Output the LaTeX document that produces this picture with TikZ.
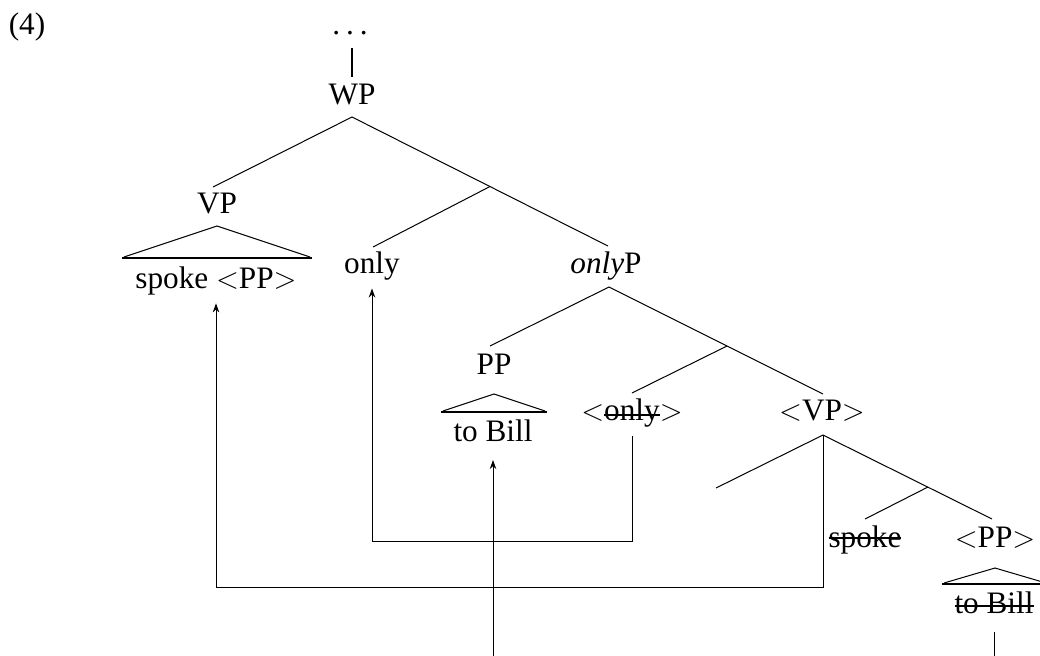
\documentclass[tikz,border=0pt]{standalone}
\usepackage{fontspec}
\setmainfont{Liberation Serif}
\usetikzlibrary{arrows.meta}
\newcommand{\strk}[2][2.6pt]{\sbox0{#2}\rlap{\rule[#1]{\wd0}{0.8pt}}\usebox0}
\tikzset{
  lbl/.style={anchor=base, inner sep=3.3pt, font=\fontsize{12.5}{15}\selectfont},
  branch/.style={line width=0.4pt},
  roofbase/.style={line width=0.8pt},
  move/.style={line width=0.4pt, -{Stealth[length=3.6pt,width=2.6pt]}}
}
\begin{document}
\begin{tikzpicture}[x=0.4pt, y=-0.4pt]
  \clip (0,0) rectangle (1040,655);
  % Labels
  \node[lbl] (ex) at (27,34) {(4)};
  \node[lbl] (dots) at (350,34) {.\hspace{2.4pt}.\hspace{2.4pt}.};
  \node[lbl] (WP) at (352,104) {WP};
  \node[lbl] (VP) at (217,213) {VP};
  \node[lbl] (spk) at (216,288) {spoke $<$PP$>$};
  \node[lbl] (only) at (372,273) {only};
  \node[lbl] (onlyP) at (606,273) {\textit{only}P};
  \node[lbl] (PP) at (494,374) {PP};
  \node[lbl] (tb) at (493,441) {to Bill};
  \node[lbl] (onlyT) at (632,420) {$<$\strk[1.8pt]{only}$>$};
  \node[lbl] (VPt) at (822,420) {$<$VP$>$};
  \node[lbl] (spkT) at (865,547) {\strk[3.4pt]{spoke}};
  \node[lbl] (PPt) at (995,547) {$<$PP$>$};
  \node[lbl] (tbT) at (994,613) {\strk[2.3pt]{to Bill}};
  % Joints
  \coordinate (dots-b) at (352,48);
  \coordinate (wp-t) at (352,77);
  \coordinate (wp-b) at (352,117);
  \coordinate (vp-t) at (213,187);
  \coordinate (j1) at (490,186.5);
  \coordinate (only-t) at (373,247);
  \coordinate (onlyP-t) at (608,246);
  \coordinate (onlyP-b) at (609,287);
  \coordinate (pp-t) at (490,346);
  \coordinate (j2) at (727,346);
  \coordinate (onlyT-t) at (632,393);
  \coordinate (vpt-t) at (823,394);
  \coordinate (vpt-b) at (823,435);
  \coordinate (e-t) at (716,488);
  \coordinate (j3) at (928,487);
  \coordinate (spkT-t) at (865,519);
  \coordinate (ppt-t) at (992,519);
  % Tree
  \draw[line width=0.8pt] (dots-b) -- (wp-t);
  \draw[branch] (vp-t) -- (wp-b) -- (onlyP-t);
  \draw[branch] (j1) -- (only-t);
  \draw[branch] (pp-t) -- (onlyP-b) -- (vpt-t);
  \draw[branch] (j2) -- (onlyT-t);
  \draw[branch] (e-t) -- (vpt-b) -- (ppt-t);
  \draw[branch] (j3) -- (spkT-t);
  % Roofs
  \draw[branch] (124,257) -- (217,226) -- (310,257);
  \draw[roofbase] (122,258) -- (312,258);
  \draw[branch] (443,411) -- (494,394) -- (545,411);
  \draw[roofbase] (441,412) -- (547,412);
  \draw[branch] (944,583) -- (995,568) -- (1046,583);
  \draw[roofbase] (942,584) -- (1048,584);
  % Movement
  \draw[move] (vpt-b) -- ++(0,152) -| (spk.south);
  \draw[move] (onlyT.south) -- ++(0,106) -| (only.south);
  \draw[move, shorten <=4pt, shorten >=4pt] (tbT.south) -- ++(0,80) -| (tb.south);
\end{tikzpicture}
\end{document}
